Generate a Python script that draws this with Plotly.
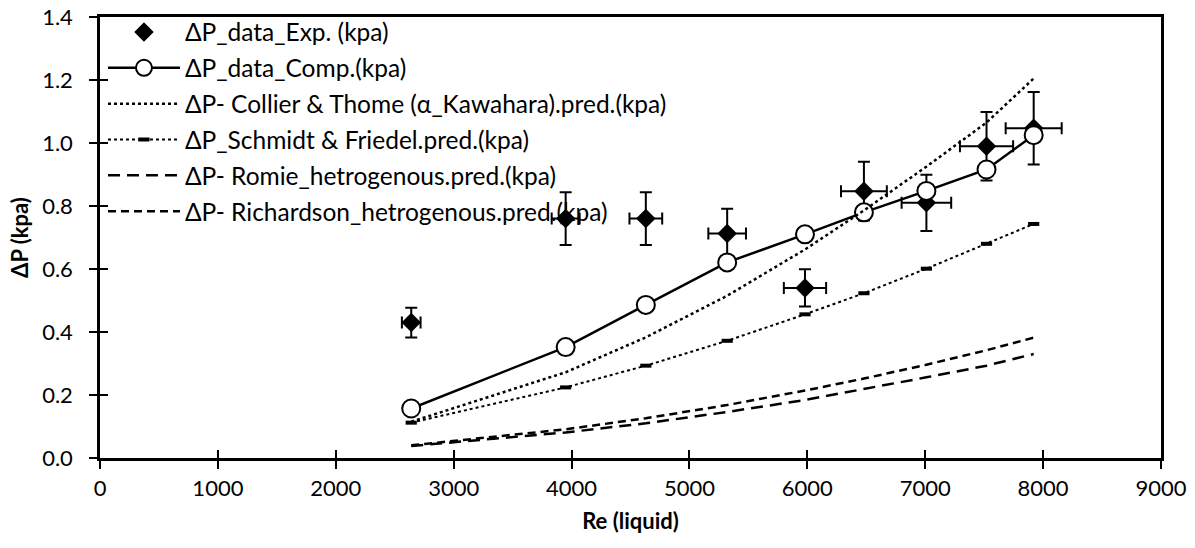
import plotly.graph_objects as go

re_liquid = [2640, 3950, 4630, 5320, 5980, 6480, 7010, 7520, 7920]
dp_exp = [0.43, 0.76, 0.76, 0.713, 0.54, 0.847, 0.81, 0.99, 1.047]
dp_comp = [0.157, 0.352, 0.486, 0.621, 0.71, 0.78, 0.848, 0.916, 1.025]
dp_collier = [0.115, 0.272, 0.383, 0.515, 0.662, 0.786, 0.925, 1.065, 1.205]
dp_schmidt = [0.112, 0.224, 0.293, 0.372, 0.456, 0.523, 0.601, 0.68, 0.743]
dp_romie = [0.038, 0.081, 0.11, 0.146, 0.184, 0.218, 0.256, 0.293, 0.33]
dp_richardson = [0.04, 0.091, 0.126, 0.168, 0.214, 0.252, 0.296, 0.342, 0.382]

names = [
    "ΔP_data_Exp. (kpa)",
    "ΔP_data_Comp.(kpa)",
    "ΔP- Collier & Thome (α_Kawahara).pred.(kpa)",
    "ΔP_Schmidt & Friedel.pred.(kpa)",
    "ΔP- Romie_hetrogenous.pred.(kpa)",
    "ΔP- Richardson_hetrogenous.pred.(kpa)",
]
x_ticks = list(range(0, 9001, 1000))
y_ticks = [0.0, 0.2, 0.4, 0.6, 0.8, 1.0, 1.2, 1.4]

FONT = "Lato"
FS = 22
fig = go.Figure()

fig.add_trace(go.Scatter(
    x=re_liquid, y=dp_exp, mode="markers", name=names[0], legendgroup="a",
    marker=dict(symbol="diamond", size=15, color="black"),
    error_y=dict(type="percent", value=11, color="black", thickness=2, width=6),
    error_x=dict(type="percent", value=3, color="black", thickness=2, width=6),
))
fig.add_trace(go.Scatter(
    x=re_liquid, y=dp_comp, mode="lines+markers", name=names[1], legendgroup="b",
    line=dict(color="black", width=2.5),
    marker=dict(symbol="circle", size=18, color="white", line=dict(color="black", width=2)),
))
fig.add_trace(go.Scatter(
    x=re_liquid, y=dp_collier, mode="lines", name=names[2], legendgroup="c",
    line=dict(color="black", width=2.5, dash="dot"),
))
fig.add_trace(go.Scatter(
    x=re_liquid, y=dp_schmidt, mode="lines+markers", name=names[3], legendgroup="d",
    line=dict(color="black", width=2, dash="dot"),
    marker=dict(symbol="line-ew", size=8, color="black", line=dict(color="black", width=4)),
))
fig.add_trace(go.Scatter(
    x=re_liquid, y=dp_romie, mode="lines", name=names[4], legendgroup="e",
    line=dict(color="black", width=2.5, dash="12px,7px"),
))
fig.add_trace(go.Scatter(
    x=re_liquid, y=dp_richardson, mode="lines", name=names[5], legendgroup="f",
    line=dict(color="black", width=2.5, dash="8px,5px"),
))

axis_common = dict(showgrid=False, zeroline=False, color="black",
                   tickfont=dict(family=FONT, size=FS, color="black"))
fig.update_layout(
    width=1195, height=548,
    margin=dict(l=100, r=34, t=17, b=90, autoexpand=False),
    plot_bgcolor="white", paper_bgcolor="white",
    font=dict(family=FONT, size=FS, color="black"),
    xaxis=dict(range=[0, 9000], tickvals=x_ticks, ticktext=[str(v) for v in x_ticks],
               ticks="outside", ticklen=8, tickwidth=2, tickcolor="black",
               ticklabelstandoff=1,
               showline=True, linewidth=2.5, linecolor="black", mirror=True,
               title=dict(text="<b>Re (liquid)</b>", font=dict(family=FONT, size=FS), standoff=14),
               **axis_common),
    yaxis=dict(range=[-0.0002, 1.4002], tickvals=y_ticks, ticktext=[f"{v:.1f}" for v in y_ticks],
               ticks="outside", ticklen=8, tickwidth=2, tickcolor="black",
               ticklabelstandoff=12,
               showline=True, linewidth=2.5, linecolor="black", mirror=True,
               title=dict(text="<b>ΔP (kpa)</b>", font=dict(family=FONT, size=FS), standoff=8),
               **axis_common),
    xaxis2=dict(range=[0, 9000], overlaying="x", anchor="y", side="bottom",
                tickvals=x_ticks, ticks="inside", ticklen=8, tickwidth=2, tickcolor="black",
                showticklabels=False, showline=False, showgrid=False, zeroline=False),
    yaxis2=dict(range=[-0.0002, 1.4002], overlaying="y", anchor="x", side="left",
                tickvals=y_ticks, ticks="inside", ticklen=8, tickwidth=2, tickcolor="black",
                showticklabels=False, showline=False, showgrid=False, zeroline=False),
    legend=dict(x=0.0028, y=1.017, xanchor="left", yanchor="top", bgcolor="rgba(0,0,0,0)",
                font=dict(family=FONT, size=24.5), tracegroupgap=1, itemwidth=72),
    showlegend=True,
)
fig.add_trace(go.Scatter(x=[None], y=[None], xaxis="x2", yaxis="y2", showlegend=False))

fig.write_html("out.html", config={"displayModeBar": False},
               post_script="document.body.style.margin='0';")
